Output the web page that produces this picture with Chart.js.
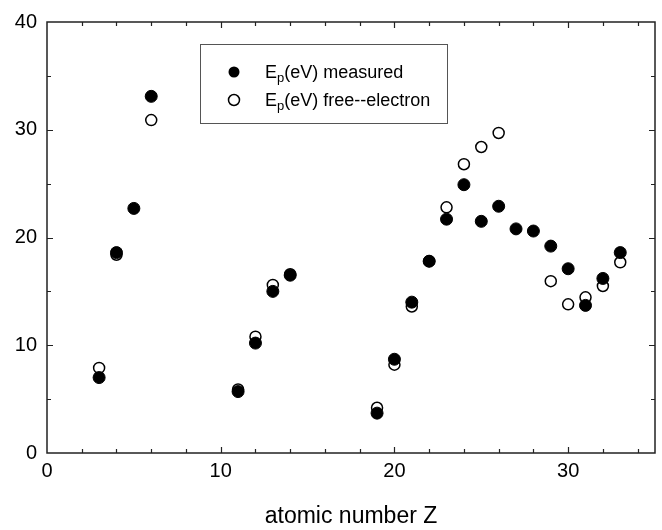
<!DOCTYPE html>
<html>
<head>
<meta charset="utf-8">
<script src="https://cdn.jsdelivr.net/npm/chart.js@4.4.1/dist/chart.umd.min.js"></script>
<style>
html,body{margin:0;padding:0;background:#fff;}
#wrap{position:relative;width:662px;height:530px;}
</style>
</head>
<body>
<div id="wrap"><canvas id="c" width="662" height="530"></canvas></div>
<script>
const Z_measured = [3,4,5,6,11,12,13,14,19,20,21,22,23,24,25,26,27,28,29,30,31,32,33];
const Ep_measured = [7.0,18.6,22.7,33.1,5.7,10.2,15.0,16.5,3.7,8.7,14.0,17.8,21.7,24.9,21.5,22.9,20.8,20.6,19.2,17.1,13.7,16.2,18.6];
const Z_free = [3,4,6,11,12,13,14,19,20,21,22,23,24,25,26,29,30,31,32,33];
const Ep_free = [7.9,18.4,30.9,5.9,10.8,15.6,16.6,4.2,8.2,13.6,17.8,22.8,26.8,28.4,29.7,15.95,13.8,14.45,15.5,17.7];
const xTicks = [0,10,20,30];
const yTicks = [0,10,20,30,40];
const legendLabels = [["E","p","(eV) measured"],["E","p","(eV) free--electron"]];

const FONT = "'Liberation Sans', Arial, sans-serif";

const toPts = (xs, ys) => xs.map((x,i)=>({x:x,y:ys[i]}));

const frameTicks = {
  id:'frameTicks',
  afterDatasetsDraw(chart){
    const {ctx, chartArea:a, scales:{x,y}} = chart;
    ctx.save();
    ctx.strokeStyle='#222';
    ctx.lineWidth=1.5;
    ctx.strokeRect(a.left,a.top,a.right-a.left,a.bottom-a.top);
    ctx.lineWidth=1.2;
    ctx.beginPath();
    for(let v=0; v<=35; v+=2){
      const px=Math.round(x.getPixelForValue(v))+0.5;
      const len = (v%10===0)?6:4;
      if(px<=a.left+1||px>=a.right-1) continue;
      ctx.moveTo(px,a.bottom); ctx.lineTo(px,a.bottom-len);
      ctx.moveTo(px,a.top); ctx.lineTo(px,a.top+len);
    }
    for(let v=0; v<=40; v+=5){
      const py=Math.round(y.getPixelForValue(v))+0.5;
      const len=(v%10===0)?6:4;
      if(py<=a.top+1||py>=a.bottom-1) continue;
      ctx.moveTo(a.left,py); ctx.lineTo(a.left+len,py);
      ctx.moveTo(a.right,py); ctx.lineTo(a.right-len,py);
    }
    ctx.stroke();
    // legend box
    const bx=200, by=44, bw=247, bh=79;
    ctx.lineWidth=1;
    ctx.strokeStyle='#555';
    ctx.strokeRect(bx+0.5,by+0.5,bw,bh);
    const rows=[72,100];
    rows.forEach((ry,i)=>{
      ctx.beginPath();
      ctx.arc(234,ry,5.5,0,Math.PI*2);
      if(i===0){ctx.fillStyle='#000';ctx.fill();}
      else {ctx.fillStyle='#fff';ctx.fill();ctx.strokeStyle='#000';ctx.lineWidth=1.5;ctx.stroke();}
      const [a1,sub,rest]=legendLabels[i];
      ctx.fillStyle='#000';
      ctx.textBaseline='alphabetic';
      ctx.font='18px '+FONT;
      let tx=265;
      ctx.fillText(a1,tx,ry+6);
      tx+=ctx.measureText(a1).width;
      ctx.font='13px '+FONT;
      ctx.fillText(sub,tx,ry+10);
      tx+=ctx.measureText(sub).width;
      ctx.font='18px '+FONT;
      ctx.fillText(rest,tx,ry+6);
    });
    ctx.restore();
  }
};

new Chart(document.getElementById('c'),{
  type:'scatter',
  data:{datasets:[
    {label:'measured',data:toPts(Z_measured,Ep_measured),pointRadius:6,pointHoverRadius:6,
     pointBackgroundColor:'#000',pointBorderColor:'#000',pointBorderWidth:1,showLine:false},
    {label:'free',data:toPts(Z_free,Ep_free),pointRadius:5.5,pointHoverRadius:5.5,
     pointBackgroundColor:'#fff',pointBorderColor:'#000',pointBorderWidth:1.5,showLine:false}
  ]},
  options:{
    responsive:false,animation:false,
    layout:{padding:{top:17,right:6,left:0,bottom:0}},
    plugins:{legend:{display:false},tooltip:{enabled:false}},
    scales:{
      x:{type:'linear',min:0,max:35,
        afterBuildTicks:(s)=>{s.ticks=xTicks.map(v=>({value:v}));},
        afterFit:(s)=>{s.height=77;},
        grid:{display:false,drawTicks:false},border:{display:false},
        ticks:{color:'#000',font:{family:FONT,size:20},padding:6,maxRotation:0},
        title:{display:true,text:'atomic number Z',color:'#000',font:{family:FONT,size:23},padding:{top:12,bottom:0}}
      },
      y:{type:'linear',min:0,max:40,
        afterBuildTicks:(s)=>{s.ticks=yTicks.map(v=>({value:v}));},
        afterFit:(s)=>{s.width=47;},
        grid:{display:false,drawTicks:false},border:{display:false},
        ticks:{color:'#000',font:{family:FONT,size:20},padding:10}
      }
    }
  },
  plugins:[frameTicks]
});
</script>
</body>
</html>
